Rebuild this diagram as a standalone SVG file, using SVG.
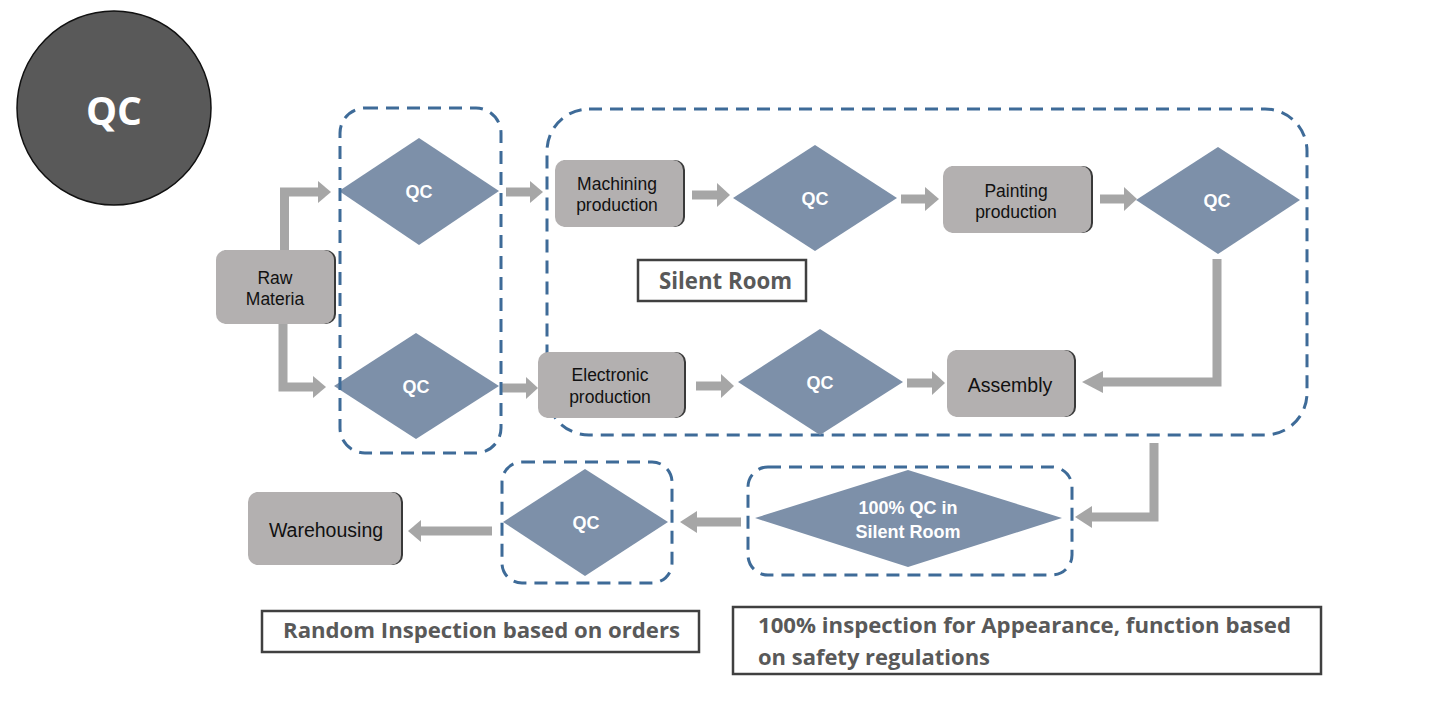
<svg xmlns="http://www.w3.org/2000/svg" width="1451" height="703" viewBox="0 0 1451 703">
<style>
.box{fill:#b3b0b0;}
.sh{fill:#3a3a3a;}
.dia{fill:#7d90a9;}
.dash{fill:none;stroke:#3e6b98;stroke-width:3;stroke-dasharray:13 8;}
.tb{fill:#fff;stroke:#404040;stroke-width:2.5;}
.nt{font-family:"Liberation Sans",Arial,sans-serif;font-size:17.5px;fill:#111;text-anchor:middle;}
.dt{font-family:"Liberation Sans",Arial,sans-serif;font-size:18px;font-weight:bold;fill:#fff;text-anchor:middle;}
.lt{font-family:"Open Sans","Noto Sans",sans-serif;font-weight:bold;font-size:22px;fill:#595959;}
.shaft{fill:none;stroke:#a6a6a6;stroke-width:9;stroke-linejoin:miter;}
.head{fill:#a6a6a6;}
</style>
<rect width="1451" height="703" fill="#fff"/>

<g id="qc-title">
<circle cx="114" cy="108" r="97" fill="#595959" stroke="#111" stroke-width="1.5"/>
<text x="114" y="125" font-family="Open Sans,Noto Sans,sans-serif" font-weight="bold" font-size="40" fill="#fff" text-anchor="middle" textLength="56" lengthAdjust="spacingAndGlyphs">QC</text>
</g>

<g id="silent-room-zone"><rect class="dash" x="547" y="109" width="760" height="326" rx="42"/></g>
<g id="qc6-zone"><rect class="dash" x="502" y="462" width="170" height="121" rx="20"/></g>
<g id="qc100-zone"><rect class="dash" x="748" y="467" width="324" height="108" rx="20"/></g>

<g id="connectors">
<path class="shaft" d="M284.5,250 V192 H319"/><polygon class="head" points="318,181 331,192 318,203"/>
<path class="shaft" d="M283,324 V387 H314"/><polygon class="head" points="313,376 326,387 313,398"/>
<path class="shaft" d="M506,192 H531"/><polygon class="head" points="530,181 543,192 530,203"/>
<path class="shaft" d="M502,388 H527"/><polygon class="head" points="526,377 538,388 526,399"/>
<path class="shaft" d="M692,195 H718"/><polygon class="head" points="717,183 730,195 717,207"/>
<path class="shaft" d="M901,199 H926"/><polygon class="head" points="925,187 939,199 925,211"/>
<path class="shaft" d="M1100,199 H1125"/><polygon class="head" points="1124,187 1137,199 1124,211"/>
<path class="shaft" d="M696,386 H722"/><polygon class="head" points="721,374 734,386 721,398"/>
<path class="shaft" d="M907,383 H933"/><polygon class="head" points="932,371 945,383 932,395"/>
<path class="shaft" d="M1217,259 V382 H1102"/><polygon class="head" points="1103,371 1082,382 1103,393"/>
<path class="shaft" d="M1154,443 V517 H1091"/><polygon class="head" points="1092,506 1075,517 1092,528"/>
<path class="shaft" d="M741,522 H696"/><polygon class="head" points="697,511 680,522 697,533"/>
<path class="shaft" d="M492,531 H420"/><polygon class="head" points="421,520 408,531 421,542"/>
</g>

<g id="raw-materia"><rect class="sh" x="218" y="250" width="118" height="74" rx="10"/><rect class="box" x="216" y="250" width="118" height="74" rx="10"/>
<text class="nt" x="275" y="284">Raw</text><text class="nt" x="275" y="305">Materia</text></g>

<g id="qc1"><polygon class="dia" points="339,191 419,138 499,191 419,245"/><text class="dt" x="419" y="198">QC</text></g>
<g id="qc2"><polygon class="dia" points="334,386 416,333 499,386 416,439"/><text class="dt" x="416" y="393">QC</text></g>
<g id="qc-zone-1"><rect class="dash" x="340" y="108" width="161" height="345" rx="25"/></g>

<g id="machining"><rect class="sh" x="557" y="160" width="128" height="67" rx="10"/><rect class="box" x="555" y="160" width="128" height="67" rx="10"/>
<text class="nt" x="617" y="190">Machining</text><text class="nt" x="617" y="211">production</text></g>

<g id="qc3"><polygon class="dia" points="733,198 815,145 897,198 815,251"/><text class="dt" x="815" y="205">QC</text></g>

<g id="painting"><rect class="sh" x="945" y="166" width="148" height="67" rx="10"/><rect class="box" x="943" y="166" width="148" height="67" rx="10"/>
<text class="nt" x="1016" y="197">Painting</text><text class="nt" x="1016" y="218">production</text></g>

<g id="qc5"><polygon class="dia" points="1136,200 1218,147 1300,200 1218,254"/><text class="dt" x="1217" y="207">QC</text></g>

<g id="silent-room-label"><rect class="tb" x="638" y="260" width="168" height="41"/>
<text class="lt" x="659" y="289" style="font-size:24px" textLength="133" lengthAdjust="spacingAndGlyphs">Silent Room</text></g>

<g id="electronic"><rect class="sh" x="540" y="352" width="146" height="66" rx="10"/><rect class="box" x="538" y="352" width="146" height="66" rx="10"/>
<text class="nt" x="610" y="381">Electronic</text><text class="nt" x="610" y="403">production</text></g>

<g id="qc4"><polygon class="dia" points="738,382 820,329 903,382 820,435"/><text class="dt" x="820" y="389">QC</text></g>

<g id="assembly"><rect class="sh" x="949" y="350" width="127" height="67" rx="10"/><rect class="box" x="947" y="350" width="127" height="67" rx="10"/>
<text class="nt" x="1010" y="392" style="font-size:19.5px">Assembly</text></g>

<g id="qc100"><polygon class="dia" points="755,518 908,470 1062,518 908,567"/>
<text class="dt" x="908" y="514">100% QC in</text><text class="dt" x="908" y="538">Silent Room</text></g>

<g id="qc6"><polygon class="dia" points="503,522 585,469 668,522 585,576"/><text class="dt" x="586" y="529">QC</text></g>

<g id="warehousing"><rect class="sh" x="250" y="492" width="153" height="73" rx="10"/><rect class="box" x="248" y="492" width="153" height="73" rx="10"/>
<text class="nt" x="326" y="537" style="font-size:19.5px">Warehousing</text></g>

<g id="random-label"><rect class="tb" x="262" y="611" width="437" height="41"/>
<text class="lt" x="283" y="638" textLength="397" lengthAdjust="spacingAndGlyphs">Random Inspection based on orders</text></g>

<g id="inspection-label"><rect class="tb" x="733" y="607" width="588" height="67"/>
<text class="lt" x="758" y="633" textLength="533" lengthAdjust="spacingAndGlyphs">100% inspection for Appearance, function based</text>
<text class="lt" x="758" y="665" textLength="232" lengthAdjust="spacingAndGlyphs">on safety regulations</text></g>
</svg>
